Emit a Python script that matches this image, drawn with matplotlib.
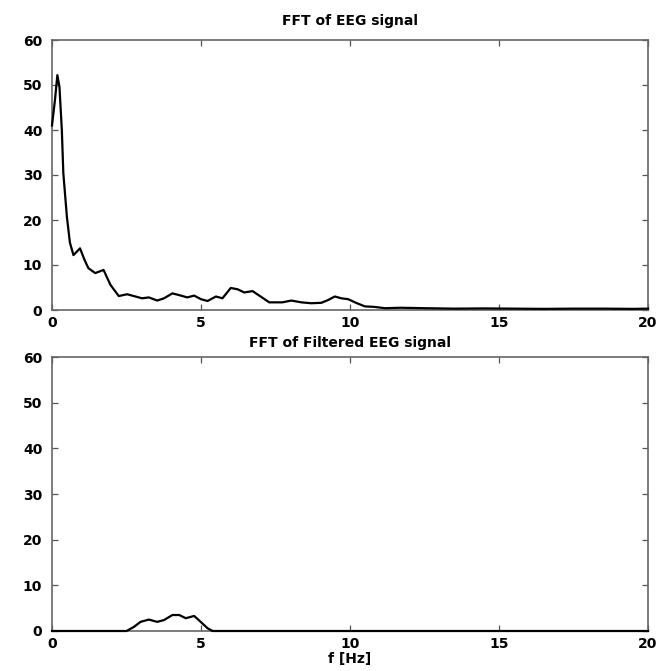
import matplotlib
matplotlib.use("Agg")
import matplotlib.pyplot as plt

plt.rcParams['font.family'] = ['DejaVu Sans']
plt.rcParams['font.weight'] = 'bold'

# Top: FFT of EEG signal
freq_raw = [0, 0.1, 0.18, 0.25, 0.33, 0.38, 0.5, 0.6, 0.72, 0.94, 1.1, 1.22, 1.45, 1.73,
            1.96, 2.24, 2.52, 2.8, 3.02, 3.25, 3.53, 3.76, 4.04, 4.27, 4.54, 4.77, 5.0,
            5.22, 5.5, 5.72, 6.0, 6.23, 6.45, 6.73, 7.0, 7.29, 7.73, 8.03, 8.37, 8.7,
            9.04, 9.26, 9.49, 9.71, 9.94, 10.2, 10.5, 10.8, 11.17, 11.7, 12.5, 13.5,
            14.5, 15.5, 16.5, 17.5, 18.5, 19.5, 20]
mag_raw = [41, 46.7, 52.2, 49.6, 40, 30.4, 20.7, 15, 12.2, 13.7, 11, 9.3, 8.2, 8.9,
           5.6, 3.1, 3.5, 3.0, 2.6, 2.8, 2.1, 2.6, 3.7, 3.3, 2.8, 3.2, 2.4,
           2.0, 3.0, 2.6, 4.9, 4.6, 3.9, 4.2, 3.0, 1.7, 1.7, 2.1, 1.7, 1.5,
           1.6, 2.2, 3.0, 2.6, 2.4, 1.6, 0.8, 0.7, 0.4, 0.5, 0.4, 0.3,
           0.35, 0.3, 0.25, 0.3, 0.3, 0.25, 0.3]

# Bottom: FFT of filtered EEG signal
freq_filt = [0, 2.5, 2.75, 2.97, 3.25, 3.53, 3.76, 4.04, 4.27, 4.49, 4.77, 4.99, 5.22, 5.39, 20]
mag_filt = [0, 0, 0.9, 2.0, 2.5, 2.0, 2.4, 3.5, 3.5, 2.8, 3.3, 2.0, 0.6, 0, 0]

xticks = [0, 5, 10, 15, 20]
yticks = [0, 10, 20, 30, 40, 50, 60]

fig = plt.figure(figsize=(6.59, 6.71), dpi=100)
ax1 = fig.add_axes([52/659, 1-310/671, 596/659, 270/671])
ax2 = fig.add_axes([52/659, 1-631/671, 596/659, 274/671])

for ax, fx, fy, title in [(ax1, freq_raw, mag_raw, 'FFT of EEG signal'),
                          (ax2, freq_filt, mag_filt, 'FFT of Filtered EEG signal')]:
    ax.plot(fx, fy, color='black', linewidth=1.6, clip_on=False, zorder=5)
    ax.set_xlim(0, 20)
    ax.set_ylim(0, 60)
    ax.set_xticks(xticks)
    ax.set_yticks(yticks)
    ax.tick_params(direction='in', length=4, width=0.9, top=True, right=True,
                   labelsize=10, color='#555555')
    ax.tick_params(axis='y', pad=7)
    ax.tick_params(axis='x', pad=4)
    for lab in ax.get_xticklabels() + ax.get_yticklabels():
        lab.set_fontweight('bold')
    for sp in ax.spines.values():
        sp.set_color('#666666')
        sp.set_linewidth(1.2)
    ax.set_title(title, fontsize=10, fontweight='bold', pad=11 if ax is ax1 else 7)

ax2.set_xlabel('f [Hz]', fontsize=10, fontweight='bold', labelpad=1)

fig.savefig('out.png', dpi=100)
